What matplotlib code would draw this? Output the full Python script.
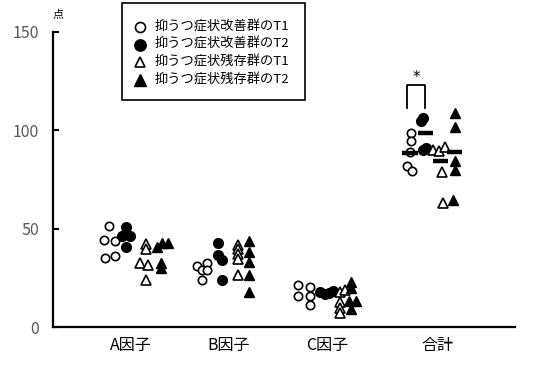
import matplotlib
matplotlib.use("Agg")
import matplotlib.pyplot as plt
from matplotlib.patches import Rectangle

plt.rcParams['font.family'] = ['Noto Sans CJK JP', 'DejaVu Sans']

# ---- data (points) ----
categories = ['A因子', 'B因子', 'C因子', '合計']
series_names = ['抑うつ症状改善群のT1', '抑うつ症状改善群のT2',
                '抑うつ症状残存群のT1', '抑うつ症状残存群のT2']

improved_t1 = {
    'A因子': [51.3, 44.2, 43.7, 35.1, 36.1],
    'B因子': [31.0, 32.4, 29.0, 29.0, 23.9],
    'C因子': [21.4, 20.3, 15.8, 15.8, 11.2],
    '合計': [98.6, 94.6, 89.0, 82.0, 79.5],
}
improved_t2 = {
    'A因子': [50.8, 46.3, 46.3, 40.7],
    'B因子': [42.7, 36.6, 34.0, 23.9],
    'C因子': [18.0, 17.0, 17.5, 18.5],
    '合計': [104.9, 106.1, 90.0, 90.9],
}
remaining_t1 = {
    'A因子': [42.2, 39.7, 32.5, 31.5, 23.9],
    'B因子': [41.7, 39.6, 37.1, 34.6, 26.4],
    'C因子': [18.0, 19.0, 12.5, 9.5, 7.0],
    '合計': [90.0, 89.5, 91.5, 79.0, 63.0],
}
remaining_t2 = {
    'A因子': [40.7, 42.7, 42.7, 32.5, 30.0],
    'B因子': [43.7, 38.0, 33.0, 26.4, 17.8],
    'C因子': [23.0, 20.0, 13.0, 13.0, 9.0],
    '合計': [108.7, 101.7, 84.5, 79.8, 64.8],
}
# group means shown for the total score
total_means = [88.6, 98.8, 84.5, 89.0]

yticks = [0, 50, 100, 150]

# ---- layout: horizontal placement of each column (axis units) ----
cat_x = {'A因子': 0.78, 'B因子': 1.76, 'C因子': 2.74, '合計': 3.84}
jitter = {
    0: {'A因子': [0.56, 0.51, 0.62, 0.52, 0.62],
        'B因子': [1.44, 1.54, 1.49, 1.54, 1.49],
        'C因子': [2.45, 2.57, 2.45, 2.57, 2.57],
        '合計': [3.58, 3.58, 3.57, 3.54, 3.59]},
    1: {'A因子': [0.73, 0.69, 0.77, 0.73],
        'B因子': [1.65, 1.65, 1.69, 1.69],
        'C因子': [2.67, 2.72, 2.76, 2.80],
        '合計': [3.68, 3.70, 3.70, 3.73]},
    2: {'A因子': [0.93, 0.93, 0.87, 0.95, 0.93],
        'B因子': [1.85, 1.85, 1.85, 1.85, 1.85],
        'C因子': [2.87, 2.92, 2.87, 2.87, 2.87],
        '合計': [3.80, 3.86, 3.92, 3.89, 3.90]},
    3: {'A因子': [1.04, 1.09, 1.15, 1.08, 1.08],
        'B因子': [1.96, 1.96, 1.96, 1.96, 1.96],
        'C因子': [2.98, 2.98, 2.96, 3.03, 2.98],
        '合計': [4.02, 4.02, 4.02, 4.02, 4.00]},
}
mean_x = [3.57, 3.725, 3.875, 4.015]

styles = [
    dict(marker='o', mfc='white', mec='black', mew=1.2, ms=6),
    dict(marker='o', mfc='black', mec='black', mew=1.0, ms=7),
    dict(marker='^', mfc='white', mec='black', mew=1.2, ms=6.5),
    dict(marker='^', mfc='black', mec='black', mew=1.0, ms=7),
]

W, H = 534, 366
fig = plt.figure(figsize=(W / 100, H / 100), dpi=100)
ax = fig.add_axes([53 / W, 1 - 327 / H, (515 - 53) / W, (327 - 32) / H])

all_series = [improved_t1, improved_t2, remaining_t1, remaining_t2]
for i, series in enumerate(all_series):
    for cat in categories:
        ax.plot(jitter[i][cat], series[cat], linestyle='none',
                zorder=3, clip_on=False, **styles[i])

# mean bars for total score
for mx, mv in zip(mean_x, total_means):
    ax.plot([mx - 0.075, mx + 0.075], [mv, mv], color='black', lw=3.2,
            solid_capstyle='butt', zorder=4)

# significance bracket
bx0, bx1 = 3.54, 3.72
ax.plot([bx0, bx0, bx1, bx1], [111.5, 123.0, 123.0, 111.5], color='black',
        lw=1.3, zorder=4)
ax.text((bx0 + bx1) / 2, 127.0, '*', ha='center', va='center', fontsize=11,
        family='DejaVu Sans')

ax.set_xlim(0, 4.62)
ax.set_ylim(0, 150)
ax.set_yticks(yticks)
ax.set_yticklabels([str(v) for v in yticks])
ax.tick_params(axis='y', direction='in', length=4, width=1.5, pad=10,
               labelsize=11.5, labelcolor='#595959')
ax.set_xticks([cat_x[c] for c in categories])
ax.set_xticklabels(categories)
ax.tick_params(axis='x', length=0, pad=7, labelsize=11.5, labelcolor='black')

for side in ['top', 'right']:
    ax.spines[side].set_visible(False)
for side in ['left', 'bottom']:
    ax.spines[side].set_linewidth(1.6)
    ax.spines[side].set_color('black')

fig.text(58 / W, 1 - 15 / H, '点', ha='center', va='center', fontsize=8)

# legend box drawn in figure coordinates
lx0, lx1, ly0, ly1 = 122, 305, 3, 100
fig.patches.append(Rectangle((lx0 / W, 1 - ly1 / H), (lx1 - lx0) / W,
                             (ly1 - ly0) / H, transform=fig.transFigure,
                             facecolor='white', edgecolor='black', lw=1.2,
                             zorder=5))
row_y = [27, 44.5, 62, 80]
for i, (name, ry) in enumerate(zip(series_names, row_y)):
    st = dict(styles[i])
    st['ms'] = st['ms'] + 1.2
    fig.add_artist(plt.Line2D([140 / W], [1 - ry / H], linestyle='none',
                              transform=fig.transFigure, zorder=6, **st))
    fig.text(155 / W, 1 - ry / H, name, ha='left', va='center',
             fontsize=9.5, zorder=6)

fig.savefig('out.png', dpi=100)
